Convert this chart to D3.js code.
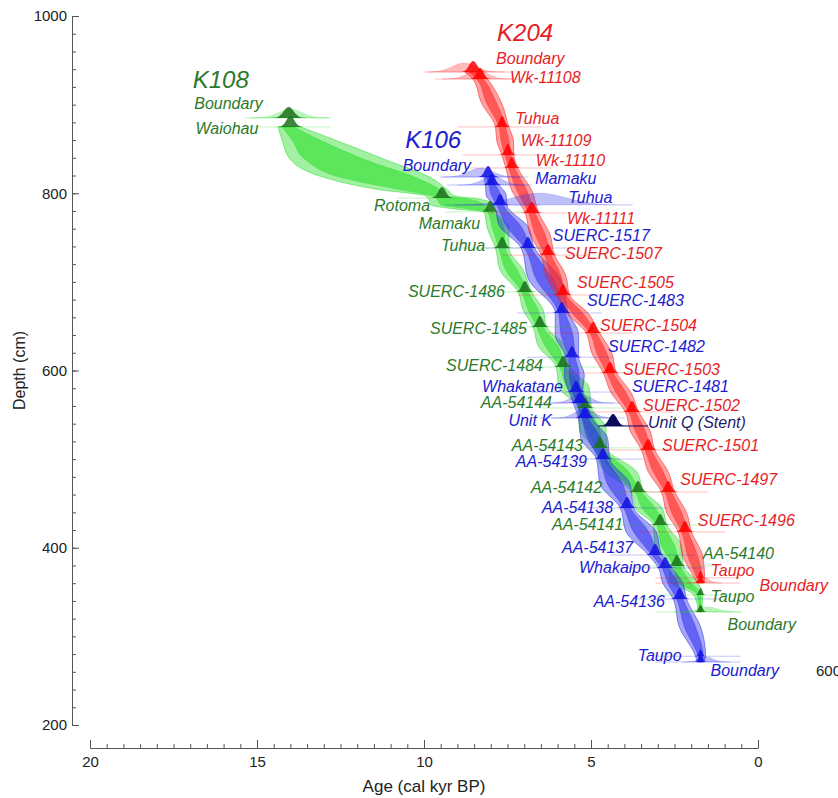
<!DOCTYPE html>
<html>
<head>
<meta charset="utf-8">
<script src="https://cdn.jsdelivr.net/npm/d3@7"></script>
<style>
  body { margin: 0; background: #fff; }
  svg { display: block; font-family: "Liberation Sans", Arial, sans-serif; }
</style>
</head>
<body>
<svg id="chart" width="838" height="798"></svg>
<script>
// ==== DATA ====
const ageTicks = [20, 15, 10, 5, 0];
const depthTicks = [200, 400, 600, 800, 1000];

// age-depth envelopes: [depth cm, older 95%, older 68%, younger 68%, younger 95%] (cal kyr BP)
const k204Band = [
  [936.8, 8.78, 8.65, 8.41, 8.28],
  [928.9, 8.54, 8.42, 8.22, 8.10],
  [902, 8.28, 8.13, 7.83, 7.68],
  [874.8, 7.86, 7.76, 7.56, 7.46],
  [859, 7.82, 7.69, 7.45, 7.32],
  [843.2, 7.67, 7.58, 7.40, 7.31],
  [828.5, 7.55, 7.46, 7.28, 7.19],
  [803, 7.37, 7.22, 6.92, 6.77],
  [777.7, 6.97, 6.87, 6.67, 6.57],
  [754, 6.83, 6.68, 6.38, 6.23],
  [730.2, 6.49, 6.39, 6.19, 6.09],
  [708, 6.36, 6.21, 5.91, 5.76],
  [685.2, 6.04, 5.94, 5.74, 5.64],
  [664, 5.71, 5.55, 5.23, 5.07],
  [642.3, 5.14, 5.04, 4.84, 4.74],
  [620, 4.98, 4.83, 4.53, 4.38],
  [597.2, 4.63, 4.53, 4.33, 4.23],
  [575, 4.40, 4.25, 3.95, 3.80],
  [553.2, 3.97, 3.87, 3.67, 3.57],
  [532, 3.83, 3.68, 3.38, 3.23],
  [510.3, 3.49, 3.39, 3.19, 3.09],
  [486, 3.29, 3.14, 2.84, 2.69],
  [462.9, 2.89, 2.79, 2.59, 2.49],
  [440, 2.74, 2.59, 2.29, 2.14],
  [417.8, 2.39, 2.29, 2.09, 1.99],
  [390, 2.25, 2.10, 1.80, 1.65],
  [366, 1.90, 1.83, 1.67, 1.60],
  [360.2, 1.82, 1.77, 1.67, 1.62]
];

const k106Band = [
  [818.3, 8.20, 8.14, 8.02, 7.96],
  [809.3, 8.16, 8.06, 7.86, 7.76],
  [798, 8.14, 7.99, 7.69, 7.54],
  [786.7, 7.92, 7.82, 7.62, 7.52],
  [762, 7.72, 7.52, 7.08, 6.88],
  [738.2, 7.09, 6.99, 6.79, 6.69],
  [702, 6.86, 6.63, 6.13, 5.90],
  [664.9, 6.07, 5.97, 5.77, 5.67],
  [640, 6.07, 5.90, 5.54, 5.37],
  [615, 5.77, 5.67, 5.47, 5.37],
  [595, 5.80, 5.65, 5.35, 5.20],
  [575.7, 5.65, 5.55, 5.35, 5.25],
  [563.3, 5.53, 5.43, 5.23, 5.13],
  [546.4, 5.38, 5.28, 5.08, 4.98],
  [523, 5.30, 5.10, 4.70, 4.50],
  [500.1, 4.84, 4.74, 4.54, 4.44],
  [472, 4.73, 4.51, 4.05, 3.83],
  [444.9, 4.12, 4.02, 3.82, 3.72],
  [418, 3.95, 3.73, 3.27, 3.05],
  [391.8, 3.28, 3.18, 2.98, 2.88],
  [377.2, 2.98, 2.88, 2.68, 2.58],
  [360, 2.85, 2.70, 2.40, 2.25],
  [342.2, 2.54, 2.44, 2.24, 2.14],
  [310, 2.35, 2.20, 1.86, 1.71],
  [277.6, 1.87, 1.80, 1.64, 1.57],
  [271.1, 1.82, 1.77, 1.67, 1.62]
];

const k108Band = [
  [875, 14.37, 14.25, 13.90, 13.71],
  [860, 14.25, 13.95, 13.11, 12.66],
  [838, 14.00, 13.56, 11.77, 11.17],
  [818, 13.00, 12.51, 10.27, 9.82],
  [804, 11.32, 10.72, 9.52, 9.30],
  [797, 9.95, 9.75, 9.35, 9.07],
  [793, 9.85, 9.60, 8.60, 8.30],
  [787, 9.80, 9.50, 8.20, 7.90],
  [782, 9.00, 8.60, 8.10, 7.90],
  [779, 8.20, 8.10, 7.95, 7.85],
  [760, 8.10, 7.95, 7.60, 7.45],
  [738.2, 7.86, 7.76, 7.56, 7.46],
  [713, 7.72, 7.55, 7.20, 7.02],
  [688.6, 7.18, 7.08, 6.88, 6.78],
  [669, 7.04, 6.89, 6.59, 6.44],
  [649.1, 6.73, 6.63, 6.43, 6.33],
  [627, 6.57, 6.37, 5.97, 5.77],
  [603.9, 6.04, 5.94, 5.74, 5.64],
  [581, 5.96, 5.73, 5.28, 5.06],
  [557.7, 5.38, 5.28, 5.08, 4.98],
  [535, 5.35, 5.15, 4.75, 4.55],
  [512.6, 4.93, 4.83, 4.63, 4.53],
  [487, 4.60, 4.38, 3.90, 3.66],
  [462.9, 3.79, 3.69, 3.49, 3.39],
  [444, 3.66, 3.46, 3.06, 2.86],
  [425.7, 3.13, 3.03, 2.83, 2.73],
  [402, 3.09, 2.89, 2.49, 2.29],
  [379.4, 2.63, 2.53, 2.33, 2.23],
  [363, 2.65, 2.45, 2.05, 1.85],
  [346.7, 1.92, 1.82, 1.72, 1.66],
  [327.5, 1.78, 1.75, 1.70, 1.68]
];

// dated levels: [label, depth cm, modelled age, spread]
const k204Points = [
  ["Boundary", 936.8, 8.53, 0.12],
  ["Wk-11108", 928.9, 8.32, 0.10],
  ["Tuhua", 874.8, 7.66, 0.08],
  ["Wk-11109", 843.2, 7.49, 0.08],
  ["Wk-11110", 828.5, 7.37, 0.08],
  ["Wk-11111", 777.7, 6.77, 0.10],
  ["SUERC-1507", 730.2, 6.29, 0.09],
  ["SUERC-1505", 685.2, 5.84, 0.09],
  ["SUERC-1504", 642.3, 4.94, 0.09],
  ["SUERC-1503", 597.2, 4.43, 0.09],
  ["SUERC-1502", 553.2, 3.77, 0.09],
  ["SUERC-1501", 510.3, 3.29, 0.09],
  ["SUERC-1497", 462.9, 2.69, 0.09],
  ["SUERC-1496", 417.8, 2.19, 0.09],
  ["Taupo", 366, 1.72, 0.05],
  ["Boundary", 360.2, 1.72, 0.06]
];

const k106Points = [
  ["Boundary", 818.3, 8.08, 0.10],
  ["Mamaku", 809.3, 7.96, 0.09],
  ["Tuhua", 786.7, 7.72, 0.09],
  ["SUERC-1517", 738.2, 6.89, 0.09],
  ["SUERC-1483", 664.9, 5.87, 0.09],
  ["SUERC-1482", 615, 5.57, 0.09],
  ["SUERC-1481", 575.7, 5.45, 0.09],
  ["Whakatane", 563.3, 5.33, 0.10],
  ["Unit K", 546.4, 5.18, 0.10],
  ["AA-54139", 500.1, 4.64, 0.09],
  ["AA-54138", 444.9, 3.92, 0.09],
  ["AA-54137", 391.8, 3.08, 0.09],
  ["Whakaipo", 377.2, 2.78, 0.09],
  ["AA-54136", 342.2, 2.34, 0.09],
  ["Taupo", 277.6, 1.72, 0.05],
  ["Boundary", 271.1, 1.72, 0.06]
];

const k108Points = [
  ["Boundary", 885, 14.05, 0.15],
  ["Waiohau", 874.8, 14.00, 0.12],
  ["Rotoma", 794.6, 9.46, 0.11],
  ["Mamaku", 779, 8.02, 0.09],
  ["Tuhua", 738.2, 7.66, 0.09],
  ["SUERC-1486", 688.6, 6.98, 0.09],
  ["SUERC-1485", 649.1, 6.53, 0.09],
  ["SUERC-1484", 603.9, 5.84, 0.09],
  ["AA-54144", 557.7, 5.18, 0.09],
  ["AA-54143", 512.6, 4.73, 0.09],
  ["AA-54142", 462.9, 3.59, 0.09],
  ["AA-54141", 425.7, 2.93, 0.09],
  ["AA-54140", 379.4, 2.43, 0.09],
  ["Taupo", 346.7, 1.72, 0.05],
  ["Boundary", 327.5, 1.72, 0.06]
];

// Stent (Unit Q) tephra age
const unitQ = ["Unit Q (Stent)", 537.4, 4.34, 0.12];

// unmodelled (prior) distributions shown pale: [core, depth, centre age, spread]
const priorHumps = [
  ["K204", 936.8, 8.80, 0.35],
  ["K204", 928.9, 8.40, 0.30],
  ["K204", 360.2, 1.60, 0.15],
  ["K106", 818.3, 8.30, 0.35],
  ["K106", 809.3, 7.95, 0.30],
  ["K106", 786.7, 6.55, 0.80],
  ["K106", 563.3, 5.30, 0.28],
  ["K106", 546.4, 5.20, 0.28],
  ["K106", 271.1, 1.55, 0.20],
  ["K108", 885, 14.00, 0.35],
  ["K108", 327.5, 1.50, 0.30]
];

// ==== LAYOUT / STYLE ====
const svg = d3.select("#chart");

const x = d3.scaleLinear().domain([20, 0]).range([90, 758]);
const y = d3.scaleLinear().domain([200, 1000]).range([725, 16]);

// label placement relative to each dated level: [anchor, dx, dy]
const k204Place = [
  ["start", 23, -8], ["start", 30, 4], ["start", 13, -3], ["start", 13, -9],
  ["start", 24, -2], ["start", 35, 11], ["start", 17, 4], ["start", 14, -7],
  ["start", 7, -2], ["start", 13, 2], ["start", 11, -1], ["start", 14, 1],
  ["start", 12, -7], ["start", 13, -6], ["start", 10, -2], ["start", 59, 8]
];
const k106Place = [
  ["end", -17, -6], ["start", 43, -1], ["start", 68, -2], ["start", 25, -7],
  ["start", 25, -7], ["start", 36, -5], ["start", 56, 0], ["end", -17, -11],
  ["end", -33, 8], ["end", -16, 8], ["end", -14, 5], ["end", -22, -2],
  ["end", -15, 5], ["end", -15, 8], ["end", -19, 5], ["start", 10, 14]
];
const k108Place = [
  ["end", -26, -9], ["end", -32, 7], ["end", -12, 13], ["end", -10, 17],
  ["end", -17, 3], ["end", -20, 5], ["end", -13, 7], ["end", -20, 4],
  ["end", -33, 0], ["end", -17, 3], ["end", -36, 1], ["end", -37, 5],
  ["start", 26, -7], ["start", 10, 7], ["start", 27, 18]
];

const cores = [
  { name: "K108", band: k108Band, points: k108Points, place: k108Place, title: [-96, -30],
    fill: "#22dd22", hump: "#1b6e1b", text: "#2b7a2b" },
  { name: "K106", band: k106Band, points: k106Points, place: k106Place, title: [-83, -29],
    fill: "#2a2aee", hump: "#1010e0", text: "#2020d0" },
  { name: "K204", band: k204Band, points: k204Points, place: k204Place, title: [24, -31],
    fill: "#ff1a1a", hump: "#ff0000", text: "#e61e26" }
];
const coreByName = Object.fromEntries(cores.map(c => [c.name, c]));

// ==== AXES ====
function styleAxis(g) {
  g.selectAll("path, line").attr("stroke", "#555").attr("stroke-width", 1);
  g.selectAll("text").attr("fill", "#222").attr("font-size", 15)
    .attr("font-family", "'Liberation Sans', Arial, sans-serif");
}

svg.append("g").attr("transform", "translate(72,0)")
  .call(d3.axisLeft(y).tickValues(d3.range(200, 1001, 20)).tickSizeInner(-4).tickSizeOuter(0).tickFormat(""))
  .call(styleAxis);
svg.append("g").attr("transform", "translate(72,0)")
  .call(d3.axisLeft(y).tickValues(depthTicks).tickSizeInner(-7).tickSizeOuter(0).tickPadding(5).tickFormat(d3.format("d")))
  .call(styleAxis);

svg.append("g").attr("transform", "translate(0,748)")
  .call(d3.axisBottom(x).tickValues(d3.range(0, 20.01, 0.5)).tickSizeInner(-4).tickSizeOuter(0).tickFormat(""))
  .call(styleAxis);
svg.append("g").attr("transform", "translate(0,748)")
  .call(d3.axisBottom(x).tickValues(ageTicks).tickSizeInner(-8).tickSizeOuter(0).tickPadding(8).tickFormat(d3.format("d")))
  .call(styleAxis);

svg.append("text")
  .attr("x", (x(20) + x(0)) / 2).attr("y", 792)
  .attr("text-anchor", "middle").attr("font-size", 17).attr("fill", "#222")
  .text("Age (cal kyr BP)");

svg.append("text")
  .attr("transform", `translate(25,${(y(200) + y(1000)) / 2}) rotate(-90)`)
  .attr("text-anchor", "middle").attr("font-size", 16).attr("fill", "#222")
  .text("Depth (cm)");

// stray axis label clipped at the right edge in the source figure
svg.append("text")
  .attr("x", 816).attr("y", 676).attr("font-size", 15).attr("fill", "#222")
  .text("600");

// ==== ENVELOPES ====
const bandArea = (lo, hi) => d3.area()
  .y(d => y(d[0]))
  .x0(d => x(d[lo]))
  .x1(d => x(d[hi]))
  .curve(d3.curveMonotoneY);

const plot = svg.append("g");

cores.forEach(c => {
  const g = plot.append("g").attr("class", "band-" + c.name);
  g.append("path").datum(c.band)
    .attr("d", bandArea(1, 4))
    .attr("fill", c.fill).attr("fill-opacity", 0.42)
    .attr("stroke", c.fill).attr("stroke-opacity", 0.75).attr("stroke-width", 0.7);
  g.append("path").datum(c.band)
    .attr("d", bandArea(2, 3))
    .attr("fill", c.fill).attr("fill-opacity", 0.55)
    .attr("stroke", c.fill).attr("stroke-opacity", 0.6).attr("stroke-width", 0.5);
});

// ==== DISTRIBUTIONS ====
function humpPath(depth, age, sd, h) {
  const base = y(depth);
  const pts = d3.range(-3.5, 3.51, 0.25).map(k => [x(age + k * sd), base - h * Math.exp(-0.5 * k * k)]);
  return d3.line()(pts) + "Z";
}

const distG = svg.append("g");

// baselines of each dated level
cores.forEach(c => {
  distG.selectAll(null).data(c.points).join("line")
    .attr("x1", d => x(d[2]) - 45).attr("x2", d => x(d[2]) + 40)
    .attr("y1", d => y(d[1])).attr("y2", d => y(d[1]))
    .attr("stroke", c.fill).attr("stroke-opacity", 0.35).attr("stroke-width", 0.8);
});

distG.selectAll(null).data(priorHumps).join("path")
  .attr("d", d => humpPath(d[1], d[2], d[3], d[3] > 0.5 ? 12 : (d[2] < 2 ? 5 : 9)))
  .attr("fill", d => coreByName[d[0]].fill).attr("fill-opacity", 0.3)
  .attr("stroke", d => coreByName[d[0]].fill).attr("stroke-opacity", 0.3).attr("stroke-width", 0.5);

cores.forEach(c => {
  distG.selectAll(null).data(c.points).join("path")
    .attr("d", d => humpPath(d[1], d[2], d[3], d[2] < 1.8 ? 7 : 11))
    .attr("fill", c.hump).attr("fill-opacity", 0.85);
});

// Unit Q (Stent)
distG.append("line")
  .attr("x1", x(unitQ[2]) - 15).attr("x2", x(unitQ[2]) + 35)
  .attr("y1", y(unitQ[1])).attr("y2", y(unitQ[1]))
  .attr("stroke", "#0b0b5e").attr("stroke-width", 1);
distG.append("path")
  .attr("d", humpPath(unitQ[1], unitQ[2], unitQ[3], 12))
  .attr("fill", "#0b0b5e");

// ==== LABELS ====
const labelG = svg.append("g")
  .attr("font-style", "italic")
  .attr("font-family", "'Liberation Sans', Arial, sans-serif");

cores.forEach(c => {
  labelG.selectAll(null).data(c.points).join("text")
    .attr("x", (d, i) => x(d[2]) + c.place[i][1])
    .attr("y", (d, i) => y(d[1]) + c.place[i][2])
    .attr("text-anchor", (d, i) => c.place[i][0])
    .attr("font-size", 16)
    .attr("fill", c.text)
    .text(d => d[0]);

  const top = c.points[0];
  labelG.append("text")
    .attr("x", x(top[2]) + c.title[0])
    .attr("y", y(top[1]) + c.title[1])
    .attr("font-size", 24)
    .attr("fill", c.text)
    .text(c.name);
});

labelG.append("text")
  .attr("x", x(unitQ[2]) + 35)
  .attr("y", y(unitQ[1]) + 2)
  .attr("font-size", 16)
  .attr("fill", "#1c1c6e")
  .text(unitQ[0]);
</script>
</body>
</html>
